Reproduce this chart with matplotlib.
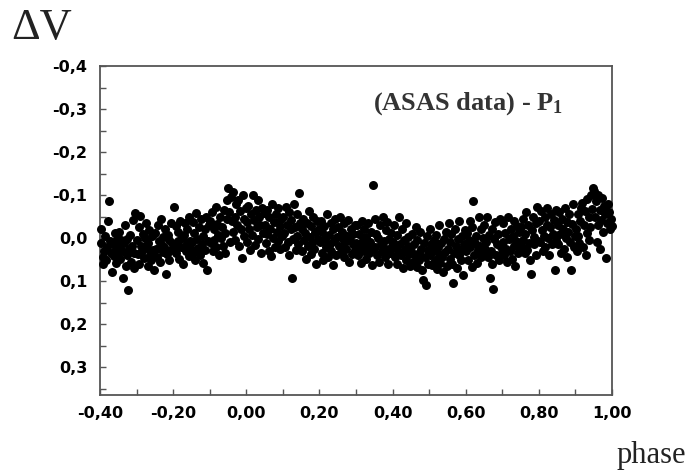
import numpy as np
import matplotlib.pyplot as plt
from matplotlib.ticker import MultipleLocator, FuncFormatter

# phase / delta V points, 20 per 0.05 phase bin
phase = [
    -0.398, -0.396, -0.393, -0.391, -0.388, -0.386, -0.383, -0.381, -0.378, -0.375, -0.373, -0.370, -0.367, -0.365, -0.362, -0.360, -0.357, -0.355, -0.353, -0.351,
    -0.349, -0.347, -0.344, -0.342, -0.339, -0.337, -0.335, -0.332, -0.330, -0.327, -0.325, -0.323, -0.320, -0.318, -0.315, -0.313, -0.310, -0.308, -0.306, -0.304,
    -0.299, -0.297, -0.294, -0.292, -0.290, -0.287, -0.285, -0.282, -0.280, -0.277, -0.275, -0.272, -0.270, -0.268, -0.265, -0.263, -0.260, -0.258, -0.255, -0.252,
    -0.249, -0.247, -0.244, -0.242, -0.239, -0.237, -0.234, -0.232, -0.229, -0.227, -0.224, -0.222, -0.220, -0.217, -0.215, -0.212, -0.210, -0.207, -0.205, -0.202,
    -0.198, -0.196, -0.193, -0.191, -0.188, -0.186, -0.183, -0.181, -0.178, -0.176, -0.173, -0.171, -0.168, -0.166, -0.163, -0.161, -0.158, -0.156, -0.153, -0.151,
    -0.149, -0.147, -0.144, -0.142, -0.139, -0.137, -0.134, -0.132, -0.129, -0.127, -0.124, -0.122, -0.119, -0.117, -0.114, -0.112, -0.110, -0.107, -0.104, -0.102,
    -0.099, -0.097, -0.094, -0.092, -0.089, -0.087, -0.084, -0.082, -0.079, -0.077, -0.074, -0.072, -0.069, -0.067, -0.064, -0.062, -0.059, -0.057, -0.054, -0.052,
    -0.050, -0.047, -0.045, -0.042, -0.040, -0.037, -0.035, -0.032, -0.030, -0.027, -0.025, -0.022, -0.020, -0.017, -0.015, -0.012, -0.010, -0.007, -0.005, -0.002,
    0.001, 0.003, 0.006, 0.008, 0.011, 0.013, 0.016, 0.018, 0.021, 0.023, 0.026, 0.028, 0.031, 0.033, 0.036, 0.038, 0.041, 0.043, 0.046, 0.048,
    0.051, 0.053, 0.056, 0.058, 0.061, 0.063, 0.066, 0.068, 0.071, 0.073, 0.076, 0.078, 0.081, 0.083, 0.086, 0.088, 0.091, 0.093, 0.096, 0.098,
    0.101, 0.103, 0.106, 0.108, 0.111, 0.113, 0.116, 0.118, 0.121, 0.123, 0.125, 0.128, 0.130, 0.133, 0.135, 0.138, 0.140, 0.142, 0.144, 0.147,
    0.151, 0.153, 0.156, 0.158, 0.161, 0.163, 0.166, 0.168, 0.171, 0.173, 0.176, 0.178, 0.181, 0.183, 0.186, 0.188, 0.191, 0.193, 0.196, 0.198,
    0.201, 0.203, 0.206, 0.208, 0.211, 0.213, 0.216, 0.218, 0.221, 0.223, 0.226, 0.228, 0.231, 0.233, 0.236, 0.238, 0.241, 0.243, 0.246, 0.248,
    0.251, 0.253, 0.256, 0.258, 0.261, 0.263, 0.266, 0.268, 0.271, 0.273, 0.276, 0.278, 0.281, 0.283, 0.286, 0.288, 0.291, 0.293, 0.296, 0.298,
    0.301, 0.303, 0.306, 0.308, 0.311, 0.313, 0.316, 0.318, 0.321, 0.323, 0.326, 0.328, 0.331, 0.333, 0.336, 0.338, 0.341, 0.343, 0.346, 0.347,
    0.351, 0.353, 0.356, 0.358, 0.361, 0.363, 0.366, 0.368, 0.371, 0.373, 0.376, 0.378, 0.381, 0.383, 0.386, 0.388, 0.391, 0.393, 0.396, 0.398,
    0.401, 0.403, 0.406, 0.408, 0.411, 0.413, 0.416, 0.418, 0.421, 0.423, 0.426, 0.428, 0.431, 0.433, 0.436, 0.438, 0.441, 0.443, 0.446, 0.448,
    0.451, 0.453, 0.456, 0.458, 0.461, 0.463, 0.466, 0.468, 0.471, 0.473, 0.476, 0.478, 0.481, 0.483, 0.486, 0.488, 0.491, 0.493, 0.496, 0.498,
    0.501, 0.503, 0.506, 0.508, 0.511, 0.513, 0.516, 0.518, 0.521, 0.523, 0.526, 0.528, 0.531, 0.533, 0.536, 0.538, 0.541, 0.543, 0.546, 0.548,
    0.551, 0.553, 0.556, 0.558, 0.561, 0.563, 0.565, 0.568, 0.571, 0.573, 0.576, 0.578, 0.581, 0.583, 0.586, 0.588, 0.591, 0.593, 0.596, 0.598,
    0.601, 0.603, 0.606, 0.608, 0.611, 0.613, 0.616, 0.618, 0.620, 0.623, 0.626, 0.628, 0.631, 0.633, 0.636, 0.638, 0.641, 0.643, 0.646, 0.648,
    0.651, 0.653, 0.656, 0.658, 0.661, 0.663, 0.666, 0.668, 0.671, 0.673, 0.675, 0.678, 0.681, 0.683, 0.686, 0.688, 0.691, 0.693, 0.696, 0.698,
    0.701, 0.703, 0.706, 0.708, 0.711, 0.713, 0.716, 0.718, 0.721, 0.723, 0.726, 0.728, 0.731, 0.733, 0.736, 0.738, 0.741, 0.743, 0.746, 0.748,
    0.751, 0.753, 0.756, 0.758, 0.761, 0.763, 0.766, 0.768, 0.771, 0.773, 0.776, 0.778, 0.781, 0.783, 0.786, 0.788, 0.791, 0.793, 0.795, 0.798,
    0.801, 0.803, 0.806, 0.808, 0.811, 0.813, 0.816, 0.818, 0.821, 0.823, 0.826, 0.828, 0.831, 0.833, 0.836, 0.838, 0.841, 0.844, 0.846, 0.848,
    0.851, 0.853, 0.856, 0.858, 0.861, 0.863, 0.866, 0.868, 0.871, 0.873, 0.876, 0.878, 0.881, 0.883, 0.886, 0.888, 0.891, 0.893, 0.896, 0.898,
    0.901, 0.903, 0.906, 0.908, 0.911, 0.913, 0.916, 0.918, 0.921, 0.923, 0.926, 0.928, 0.931, 0.933, 0.936, 0.938, 0.941, 0.943, 0.946, 0.948,
    0.951, 0.953, 0.956, 0.958, 0.961, 0.963, 0.966, 0.968, 0.971, 0.973, 0.976, 0.978, 0.981, 0.984, 0.986, 0.989, 0.991, 0.994, 0.997, 1.000,
]

dv = [
    0.012, -0.020, 0.045, 0.061, 0.030, -0.005, 0.052, 0.020, -0.040, -0.086, 0.008, 0.035, 0.079, 0.015, 0.041, -0.012, 0.026, 0.058, 0.003, 0.032,
    0.022, -0.015, 0.048, 0.005, 0.031, 0.093, 0.012, -0.030, 0.064, 0.040, 0.002, 0.121, 0.026, -0.008, 0.055, 0.018, -0.042, 0.035, 0.070, -0.058,
    0.005, 0.038, -0.025, 0.060, -0.052, 0.018, 0.030, -0.010, 0.047, 0.000, -0.035, 0.024, 0.066, 0.011, -0.018, 0.040, 0.052, -0.004, 0.028, 0.074,
    -0.012, 0.025, 0.043, -0.030, 0.008, 0.056, -0.045, 0.015, 0.032, -0.002, 0.020, -0.022, 0.084, 0.038, -0.008, 0.050, 0.004, -0.036, 0.027, 0.012,
    -0.072, 0.018, -0.028, 0.035, 0.006, -0.015, 0.048, -0.040, 0.022, 0.000, 0.060, -0.006, -0.034, 0.030, 0.012, -0.022, 0.042, -0.050, 0.008, 0.026,
    0.010, -0.038, 0.032, -0.012, 0.050, -0.058, 0.003, 0.024, -0.026, 0.040, -0.045, 0.015, -0.004, 0.058, -0.020, 0.028, -0.050, 0.074, 0.006, -0.030,
    -0.040, 0.012, -0.060, 0.030, -0.020, 0.005, -0.072, 0.022, -0.032, -0.008, 0.040, -0.050, 0.000, -0.025, 0.018, -0.065, -0.012, 0.035, -0.045, -0.088,
    -0.116, -0.060, 0.010, -0.095, -0.040, -0.015, -0.108, -0.050, 0.005, -0.078, -0.030, -0.088, 0.018, -0.062, -0.020, 0.047, -0.100, -0.045, -0.005, -0.070,
    -0.038, 0.010, -0.075, -0.020, 0.028, -0.055, -0.008, -0.100, -0.042, 0.016, -0.066, -0.025, -0.088, 0.002, -0.048, -0.030, 0.035, -0.070, -0.012, -0.058,
    -0.030, 0.012, -0.065, -0.010, 0.030, -0.048, -0.022, 0.042, -0.080, 0.000, -0.038, 0.020, -0.056, -0.015, 0.008, -0.070, -0.028, 0.025, -0.045, -0.005,
    -0.050, -0.012, 0.022, -0.072, -0.030, 0.010, -0.060, 0.040, -0.020, -0.042, 0.093, 0.002, -0.080, -0.025, 0.028, -0.055, -0.005, 0.015, -0.104, -0.035,
    -0.022, 0.030, -0.045, 0.005, -0.012, 0.048, -0.035, 0.018, -0.063, -0.002, 0.036, -0.028, 0.012, -0.050, 0.025, -0.015, 0.060, -0.040, 0.002, -0.020,
    0.010, -0.040, 0.035, -0.015, 0.052, -0.028, 0.002, 0.022, -0.055, 0.045, -0.008, 0.015, -0.035, 0.030, 0.062, -0.020, 0.008, -0.045, 0.040, -0.002,
    -0.025, 0.018, -0.048, 0.032, 0.000, -0.015, 0.045, -0.035, 0.010, 0.025, -0.005, -0.042, 0.055, 0.004, -0.022, 0.038, -0.010, 0.015, -0.030, 0.028,
    0.012, -0.030, 0.040, -0.010, 0.022, 0.058, -0.040, 0.005, 0.030, -0.020, 0.048, -0.002, 0.018, -0.035, 0.035, 0.010, -0.015, 0.062, 0.025, -0.123,
    -0.045, 0.020, -0.010, 0.040, 0.000, 0.055, -0.030, 0.015, 0.030, -0.050, 0.008, 0.045, -0.018, 0.025, -0.038, 0.060, 0.002, 0.035, -0.012, 0.018,
    0.010, -0.030, 0.045, 0.022, -0.008, 0.060, 0.030, -0.050, 0.015, 0.040, -0.020, 0.070, 0.005, 0.028, -0.035, 0.050, 0.018, -0.002, 0.038, 0.064,
    0.030, -0.010, 0.055, 0.015, 0.040, -0.025, 0.068, 0.005, 0.035, 0.050, -0.015, 0.025, 0.075, 0.098, 0.012, 0.045, 0.109, -0.005, 0.060, 0.028,
    0.040, -0.020, 0.015, 0.062, 0.030, 0.005, 0.050, -0.008, 0.072, 0.022, 0.038, -0.030, 0.058, 0.012, 0.045, 0.080, 0.002, 0.032, -0.015, 0.066,
    0.025, -0.035, 0.048, 0.010, -0.010, 0.060, 0.105, 0.035, -0.022, 0.018, 0.070, 0.002, 0.040, -0.040, 0.028, 0.052, -0.005, 0.085, 0.015, -0.018,
    0.030, -0.012, 0.050, 0.005, -0.040, 0.022, 0.068, -0.025, -0.086, 0.040, 0.012, -0.005, 0.058, 0.028, -0.048, 0.018, 0.045, -0.020, 0.035, 0.000,
    -0.030, 0.025, 0.010, -0.050, 0.045, -0.008, 0.093, 0.030, -0.020, 0.060, 0.119, 0.002, -0.038, 0.040, 0.015, -0.010, 0.052, -0.045, 0.020, 0.035,
    0.010, -0.035, 0.040, -0.012, 0.025, 0.055, -0.048, 0.002, 0.030, -0.022, 0.048, -0.005, 0.018, -0.040, 0.065, 0.008, -0.028, 0.035, -0.015, 0.022,
    -0.025, 0.020, -0.045, 0.005, 0.035, -0.010, -0.060, 0.028, -0.030, 0.012, 0.050, 0.084, -0.018, -0.050, 0.015, -0.002, 0.040, -0.035, -0.072, 0.008,
    -0.040, 0.010, -0.062, -0.018, 0.030, -0.005, -0.050, 0.022, -0.030, -0.070, 0.000, 0.040, -0.025, -0.055, 0.015, -0.010, -0.042, 0.074, -0.065, 0.005,
    -0.030, 0.015, -0.060, -0.010, 0.035, -0.045, -0.022, 0.025, -0.070, 0.000, -0.038, 0.045, -0.015, -0.055, 0.010, 0.074, -0.032, -0.080, 0.020, -0.005,
    -0.020, 0.030, -0.055, -0.005, 0.012, -0.040, -0.070, -0.081, 0.022, -0.030, -0.062, 0.040, -0.012, -0.090, -0.048, 0.005, -0.025, -0.100, -0.068, -0.116,
    -0.110, -0.050, -0.085, 0.010, -0.030, -0.100, -0.065, 0.025, -0.042, -0.092, -0.015, -0.075, -0.055, 0.047, -0.035, -0.080, -0.060, -0.020, -0.045, -0.028,
]

plt.rcParams['mathtext.fontset'] = 'custom'
plt.rcParams['mathtext.rm'] = 'Liberation Serif'
plt.rcParams['mathtext.bf'] = 'Liberation Serif:bold'

fig = plt.figure(figsize=(6.88, 4.76), dpi=100)
ax = fig.add_axes([100/688, 1 - 395/476, 512/688, 329/476])

ax.scatter(phase, dv, s=42, c='black', marker='o', linewidths=0, clip_on=False, zorder=3)

ax.set_xlim(-0.4, 1.0)
ax.set_ylim(0.365, -0.4)

ax.xaxis.set_major_locator(MultipleLocator(0.2))
ax.xaxis.set_minor_locator(MultipleLocator(0.1))
ax.yaxis.set_major_locator(MultipleLocator(0.1))
ax.yaxis.set_minor_locator(MultipleLocator(0.05))


def comma_fmt(nd):
    def f(v, pos):
        if abs(v) < 1e-9:
            v = 0.0
        return f"{v:.{nd}f}".replace('.', ',')
    return FuncFormatter(f)


ax.xaxis.set_major_formatter(comma_fmt(2))
ax.yaxis.set_major_formatter(comma_fmt(1))

ax.tick_params(which='both', direction='in', top=False, right=False, color='#555555', width=1, length=4)
ax.tick_params(axis='x', pad=8)
ax.tick_params(axis='y', pad=9)
for lab in ax.get_xticklabels() + ax.get_yticklabels():
    lab.set_fontweight('bold')
    lab.set_fontsize(11.5)

for sp in ax.spines.values():
    sp.set_color('#555555')
    sp.set_linewidth(1.3)

ax.text(0.347, -0.313, r"(ASAS data) - $\mathbf{P_1}$", family='Liberation Serif',
        fontweight='bold', fontsize=19, color='#333333', va='center', ha='left')

fig.text(11/688, 1 - 28/476, "ΔV", family='Liberation Serif', fontsize=32,
         va='center', ha='left', color='#222222')
fig.text(686/688, 1 - 456/476, "phase", family='Liberation Serif', fontsize=22,
         va='center', ha='right', color='#222222')

fig.savefig("out.png", dpi=100)
